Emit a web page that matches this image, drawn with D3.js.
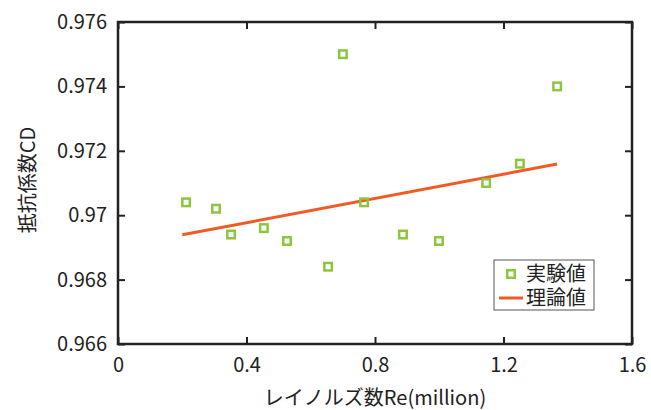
<!DOCTYPE html>
<html lang="ja">
<head>
    <meta charset="UTF-8">
    <title>抵抗係数CD</title>
    <script src="https://d3js.org/d3.v7.min.js"></script>
    <style>
        body { margin: 0; background: #fff; }
        text { font-family: "Noto Sans CJK JP", "Noto Sans", sans-serif; fill: #222; }
    </style>
</head>
<body>
    <script>
        //Experimental points: Reynolds number (million) and drag coefficient
        var reValues = [0.212, 0.305, 0.352, 0.454, 0.526, 0.654, 0.700, 0.766, 0.887, 0.999, 1.146, 1.251, 1.367];
        var cdValues = [0.9704, 0.9702, 0.9694, 0.9696, 0.9692, 0.9684, 0.9750, 0.9704, 0.9694, 0.9692, 0.9710, 0.9716, 0.9740];

        //Theoretical line end points
        var theoryRe = [0.20, 1.367];
        var theoryCd = [0.96939, 0.97159];

        //Tick labels
        var xTicks = [0, 0.4, 0.8, 1.2, 1.6];
        var yTicks = [0.966, 0.968, 0.97, 0.972, 0.974, 0.976];
        var seriesNames = ["実験値", "理論値"];

        var w = 651, h = 410;
        var padL = 118, padR = 632, padT = 22, padB = 344;

        var svg = d3.select("body").append("svg")
            .attr("width", w)
            .attr("height", h);

        var xScale = d3.scaleLinear().domain([0, 1.6]).range([padL, padR]);
        var yScale = d3.scaleLinear().domain([0.966, 0.976]).range([padB, padT]);

        var green = "#8cc63f";
        var orange = "#f15a24";

        //Axes with inward ticks on all four sides
        function styleAxis(g) {
            g.selectAll(".domain").remove();
            g.selectAll("line").attr("stroke", "#222").attr("stroke-width", 2);
            g.selectAll("text").style("font-size", "20px").attr("fill", "#222");
        }

        svg.append("g")
            .attr("transform", "translate(0," + padB + ")")
            .call(d3.axisBottom(xScale).tickValues(xTicks).tickSizeInner(-7).tickSizeOuter(0).tickPadding(14).tickFormat(d3.format("")))
            .call(styleAxis);
        svg.append("g")
            .attr("transform", "translate(0," + padT + ")")
            .call(d3.axisTop(xScale).tickValues(xTicks).tickSizeInner(-7).tickSizeOuter(0).tickFormat(""))
            .call(styleAxis);
        svg.append("g")
            .attr("transform", "translate(" + padL + ",0)")
            .call(d3.axisLeft(yScale).tickValues(yTicks).tickSizeInner(-7).tickSizeOuter(0).tickPadding(11).tickFormat(d3.format("")))
            .call(styleAxis);
        svg.append("g")
            .attr("transform", "translate(" + padR + ",0)")
            .call(d3.axisRight(yScale).tickValues(yTicks).tickSizeInner(-7).tickSizeOuter(0).tickFormat(""))
            .call(styleAxis);

        //Frame
        svg.append("rect")
            .attr("x", padL).attr("y", padT)
            .attr("width", padR - padL).attr("height", padB - padT)
            .attr("fill", "none")
            .attr("stroke", "#222")
            .attr("stroke-width", 2.5);

        //Theory line
        svg.append("line")
            .attr("x1", xScale(theoryRe[0])).attr("y1", yScale(theoryCd[0]))
            .attr("x2", xScale(theoryRe[1])).attr("y2", yScale(theoryCd[1]))
            .attr("stroke", orange)
            .attr("stroke-width", 3);

        //Experimental markers
        svg.selectAll("rect.pt")
            .data(reValues)
            .enter()
            .append("rect")
            .attr("class", "pt")
            .attr("x", function(d) { return xScale(d) - 3.75; })
            .attr("y", function(d, i) { return yScale(cdValues[i]) - 3.75; })
            .attr("width", 7.5).attr("height", 7.5)
            .attr("fill", "none")
            .attr("stroke", green)
            .attr("stroke-width", 2.5);

        //Legend
        var lg = svg.append("g").attr("transform", "translate(494,260)");
        lg.append("rect")
            .attr("width", 100).attr("height", 50)
            .attr("fill", "#fff")
            .attr("stroke", "#555")
            .attr("stroke-width", 1);
        lg.append("rect")
            .attr("x", 13.25).attr("y", 10.25).attr("width", 7.5).attr("height", 7.5)
            .attr("fill", "none").attr("stroke", green).attr("stroke-width", 2.5);
        lg.append("line")
            .attr("x1", 5).attr("x2", 29).attr("y1", 38).attr("y2", 38)
            .attr("stroke", orange).attr("stroke-width", 3);
        lg.selectAll("text.lab")
            .data(seriesNames)
            .enter()
            .append("text")
            .attr("x", 32)
            .attr("y", function(d, i) { return 21 + i * 24; })
            .style("font-size", "20px")
            .text(function(d) { return d; });

        //Axis titles
        svg.append("text")
            .attr("x", (padL + padR) / 2)
            .attr("y", 405)
            .attr("text-anchor", "middle")
            .style("font-size", "20px")
            .text("レイノルズ数Re(million)");
        svg.append("text")
            .attr("transform", "translate(35," + ((padT + padB) / 2 - 3) + ") rotate(-90)")
            .attr("text-anchor", "middle")
            .style("font-size", "20px")
            .text("抵抗係数CD");
    </script>
</body>
</html>
